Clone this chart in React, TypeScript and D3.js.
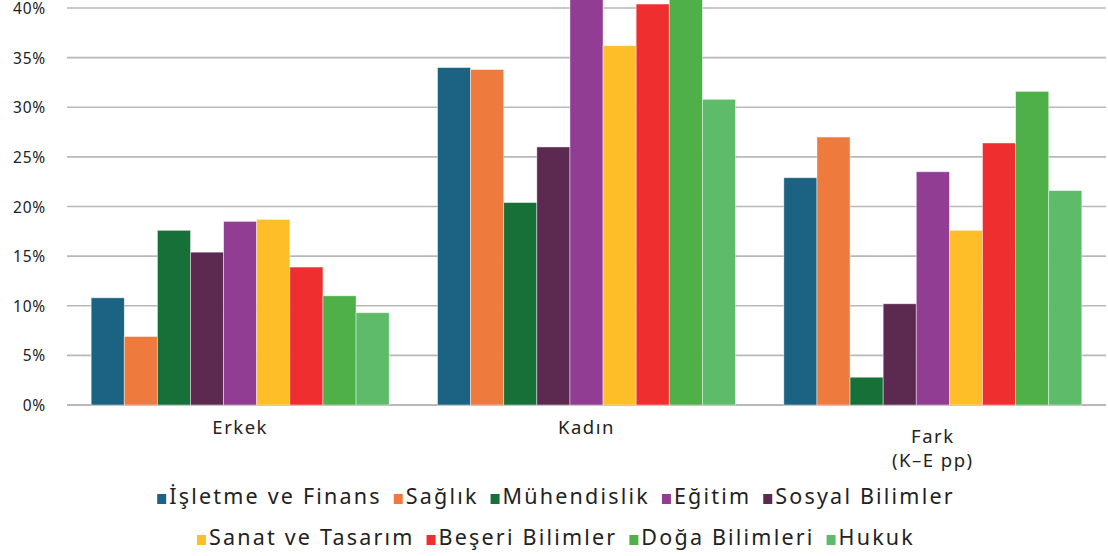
import React from "react";
import * as d3 from "d3";

const groups = ["Erkek", "Kadın", "Fark"];
const groupLabels = [["Erkek"], ["Kadın"], ["Fark", "(K–E pp)"]];
const seriesNames = [
  "İşletme ve Finans",
  "Sağlık",
  "Mühendislik",
  "Sosyal Bilimler",
  "Eğitim",
  "Sanat ve Tasarım",
  "Beşeri Bilimler",
  "Doğa Bilimleri",
  "Hukuk",
];
const seriesColors = [
  "#1C6283",
  "#EE7A3E",
  "#167038",
  "#5C2A50",
  "#903D93",
  "#FDBE27",
  "#EE2E2F",
  "#4FAF48",
  "#5EBB69",
];
const erkek = [10.8, 6.9, 17.6, 15.4, 18.5, 18.7, 13.9, 11.0, 9.3];
const kadin = [34.0, 33.8, 20.4, 26.0, 42.1, 36.2, 40.4, 42.7, 30.8];
const fark = [22.9, 27.0, 2.8, 10.2, 23.5, 17.6, 26.4, 31.6, 21.6];
const yTicks = [0, 5, 10, 15, 20, 25, 30, 35, 40];
const legendRows = [
  ["İşletme ve Finans", "Sağlık", "Mühendislik", "Eğitim", "Sosyal Bilimler"],
  ["Sanat ve Tasarım", "Beşeri Bilimler", "Doğa Bilimleri", "Hukuk"],
];

const W = 1108;
const H = 556;
const FONT = "'Noto Sans', sans-serif";
const LEGEND_SIZE = 21.5;
const LEGEND_LS = 2.2;

function measure(text: string, size: number, ls: number): number {
  const c = document.createElement("canvas");
  const ctx = c.getContext("2d")!;
  ctx.font = `${size}px 'Noto Sans'`;
  return ctx.measureText(text).width + ls * text.length;
}

export default function App() {
  const values = [erkek, kadin, fark];
  const x0 = d3.scaleBand<string>().domain(groups).range([67, 1106]).padding(0);
  const x1 = d3
    .scaleBand<string>()
    .domain(seriesNames)
    .range([0, x0.bandwidth()])
    .paddingInner(0)
    .paddingOuter(0.73);
  const y = d3.scaleLinear().domain([0, 40]).range([405, 8]);

  const legendRowsLayout = legendRows.map((row) => {
    const items = row.map((name) => ({
      name,
      w: measure(name, LEGEND_SIZE, LEGEND_LS),
      color: seriesColors[seriesNames.indexOf(name)],
    }));
    const sq = 9;
    const gapSq = 3;
    const gapItem = 12;
    const total =
      items.reduce((s, it) => s + sq + gapSq + it.w, 0) + gapItem * (items.length - 1);
    let cx = 556 - total / 2;
    return items.map((it) => {
      const pos = { ...it, x: cx };
      cx += sq + gapSq + it.w + gapItem;
      return pos;
    });
  });
  const legendY = [497, 538];

  return (
    <svg
      width={W}
      height={H}
      style={{ position: "absolute", left: 0, top: 0, background: "#fff" }}
      fontFamily={FONT}
    >
      {yTicks.map((t) => (
        <g key={t}>
          <line
            x1={67}
            x2={1106}
            y1={y(t)}
            y2={y(t)}
            stroke="#B8B8B8"
            strokeWidth={t === 0 ? 2 : 1.6}
          />
          <text
            x={46}
            y={y(t) + 6}
            textAnchor="end"
            fontSize={15.5}
            letterSpacing={0.8}
            fill="#222"
          >
            {t}%
          </text>
        </g>
      ))}
      {groups.map((g, gi) => (
        <g key={g} transform={`translate(${x0(g)},0)`}>
          {seriesNames.map((s, si) => {
            const v = values[gi][si];
            return (
              <rect
                key={s}
                x={x1(s)}
                y={y(v)}
                width={x1.bandwidth()}
                height={y(0) - y(v)}
                fill={seriesColors[si]}
                stroke="#ffffff"
                strokeOpacity={0.55}
                strokeWidth={0.8}
              />
            );
          })}
        </g>
      ))}
      {groups.map((g, gi) => {
        const lines = groupLabels[gi];
        const cx = x0(g)! + x0.bandwidth() / 2;
        const startY = lines.length === 1 ? 434 : 443;
        return (
          <text
            key={g}
            textAnchor="middle"
            fontSize={18.5}
            letterSpacing={1.5}
            fill="#222"
          >
            {lines.map((l, li) => (
              <tspan key={li} x={cx} y={startY + li * 24}>
                {l}
              </tspan>
            ))}
          </text>
        );
      })}
      {legendRowsLayout.map((row, ri) => (
        <g key={ri}>
          {row.map((it) => (
            <g key={it.name}>
              <rect
                x={it.x}
                y={legendY[ri] - 3}
                width={9}
                height={10}
                fill={it.color}
              />
              <text
                x={it.x + 12}
                y={legendY[ri] + 7}
                fontSize={LEGEND_SIZE}
                letterSpacing={LEGEND_LS}
                fill="#222"
              >
                {it.name}
              </text>
            </g>
          ))}
        </g>
      ))}
    </svg>
  );
}
